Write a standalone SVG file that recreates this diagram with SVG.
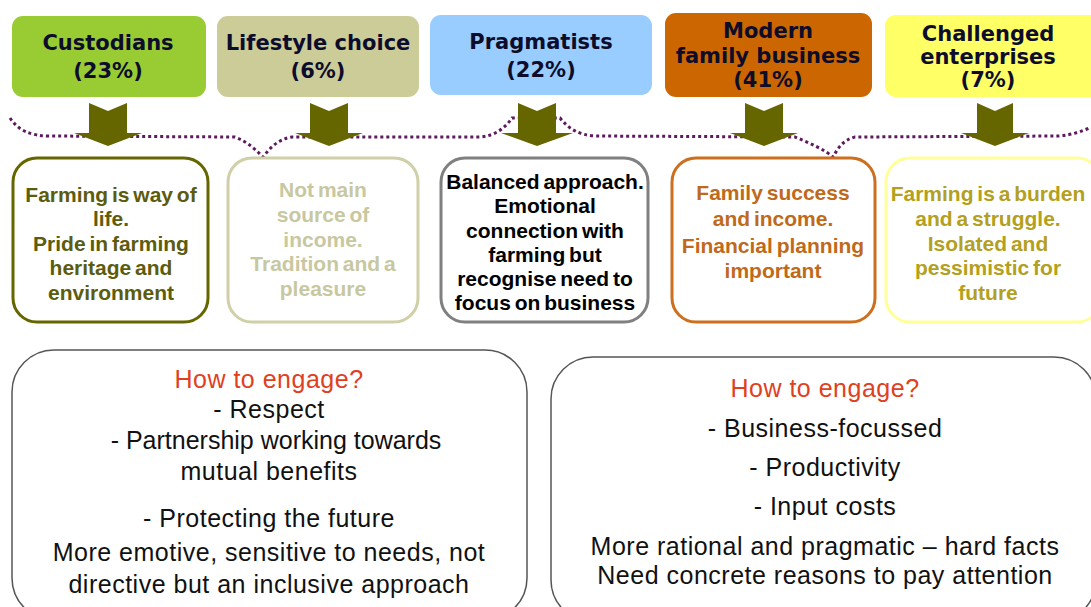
<svg xmlns="http://www.w3.org/2000/svg" width="1091" height="607" viewBox="0 0 1091 607">
<defs>
<style>
.title{font-family:"DejaVu Sans",Verdana,sans-serif;font-weight:bold;font-size:21px;fill:#0d0d2b;text-anchor:middle}
.desc{font-family:"Liberation Sans",Arial,sans-serif;font-weight:bold;font-size:21px;text-anchor:middle;word-spacing:-2px}
.eng{font-family:"Liberation Sans",Arial,sans-serif;font-size:25px;letter-spacing:0.5px;fill:#111;text-anchor:middle}
.eng .q{fill:#e0401e}
.eng .n{letter-spacing:0}
.arrow{fill:#666600}
.dot{fill:none;stroke:#5e1a5e;stroke-width:3;stroke-dasharray:3 3}
.bb{fill:#fff;stroke:#555;stroke-width:1.5}
</style>
</defs>
<rect width="1091" height="607" fill="#fff"/>
<g id="connectors">
<path class="dot" d="M10,118 C18,130 30,136 50,136 L235,137 C248,142 256,150 263,157 C270,148 278,139 292,137 L480,137 C495,136 505,128 512,118 L560,118 C568,128 578,135 595,136 L795,137 C810,143 825,150 833,157 C838,148 843,140 855,137 L1058,136 C1072,135 1083,131 1091,127"/>
<path class="arrow" d="M89,103 L108,111 L127,103 L127,133 L142,133 L108,146 L74,133 L89,133 Z"/>
<path class="arrow" d="M310,103 L329,111 L348,103 L348,133 L363,133 L329,146 L295,133 L310,133 Z"/>
<path class="arrow" d="M518,103 L537,111 L556,103 L556,133 L573,133 L537,146 L501,133 L518,133 Z"/>
<path class="arrow" d="M745,103 L764,111 L783,103 L783,133 L798,133 L764,146 L730,133 L745,133 Z"/>
<path class="arrow" d="M977,103 L995,111 L1013,103 L1013,133 L1029,133 L995,146 L961,133 L977,133 Z"/>
</g>
<g id="custodians">
<rect x="12" y="16" width="194" height="81" rx="11" fill="#99cc33"/>
<text class="title" x="108" y="50">Custodians</text>
<text class="title" x="108" y="78">(23%)</text>
</g>
<g id="lifestyle">
<rect x="217" y="16" width="202" height="81" rx="11" fill="#cccc99"/>
<text class="title" x="318" y="50">Lifestyle choice</text>
<text class="title" x="318" y="78">(6%)</text>
</g>
<g id="pragmatists">
<rect x="430" y="15" width="222" height="80" rx="11" fill="#99ccff"/>
<text class="title" x="541" y="49">Pragmatists</text>
<text class="title" x="541" y="77">(22%)</text>
</g>
<g id="modern">
<rect x="665" y="13" width="207" height="84" rx="11" fill="#cc6600"/>
<text class="title" x="768" y="38">Modern</text>
<text class="title" x="768" y="63">family business</text>
<text class="title" x="768" y="87">(41%)</text>
</g>
<g id="challenged">
<rect x="885" y="15" width="216" height="82" rx="11" fill="#ffff66"/>
<text class="title" x="988" y="41">Challenged</text>
<text class="title" x="988" y="64">enterprises</text>
<text class="title" x="988" y="87">(7%)</text>
</g>
<g id="desc-custodians">
<rect x="13" y="158" width="195" height="164" rx="24" fill="#fff" stroke="#666600" stroke-width="3"/>
<text class="desc" fill="#5c5c0c"><tspan x="111" y="202">Farming is way of</tspan><tspan x="111" y="226">life.</tspan><tspan x="111" y="251">Pride in farming</tspan><tspan x="111" y="275">heritage and</tspan><tspan x="111" y="300">environment</tspan></text>
</g>
<g id="desc-lifestyle">
<rect x="228" y="158" width="190" height="164" rx="24" fill="#fff" stroke="#d0d0a8" stroke-width="3"/>
<text class="desc" fill="#c8c8a0"><tspan x="323" y="197">Not main</tspan><tspan x="323" y="222">source of</tspan><tspan x="323" y="247">income.</tspan><tspan x="323" y="271">Tradition and a</tspan><tspan x="323" y="296">pleasure</tspan></text>
</g>
<g id="desc-pragmatists">
<rect x="441" y="158" width="207" height="164" rx="24" fill="#fff" stroke="#808080" stroke-width="3"/>
<text class="desc" fill="#000"><tspan x="545" y="189">Balanced approach.</tspan><tspan x="545" y="213">Emotional</tspan><tspan x="545" y="238">connection with</tspan><tspan x="545" y="262">farming but</tspan><tspan x="545" y="286">recognise need to</tspan><tspan x="545" y="310">focus on business</tspan></text>
</g>
<g id="desc-modern">
<rect x="672" y="158" width="203" height="164" rx="24" fill="#fff" stroke="#cc7020" stroke-width="3"/>
<text class="desc" fill="#c0691a"><tspan x="773" y="200">Family success</tspan><tspan x="773" y="226">and income.</tspan><tspan x="773" y="253">Financial planning</tspan><tspan x="773" y="278">important</tspan></text>
</g>
<g id="desc-challenged">
<rect x="886" y="158" width="215" height="164" rx="24" fill="#fff" stroke="#ffff99" stroke-width="3"/>
<text class="desc" fill="#b3a020"><tspan x="988" y="201">Farming is a burden</tspan><tspan x="988" y="226">and a struggle.</tspan><tspan x="988" y="251">Isolated and</tspan><tspan x="988" y="275">pessimistic for</tspan><tspan x="988" y="300">future</tspan></text>
</g>
<g id="engage-left">
<rect class="bb" x="12" y="350" width="515" height="270" rx="42"/>
<text class="eng"><tspan class="q" x="269" y="388">How to engage?</tspan><tspan x="269" y="418">- Respect</tspan><tspan class="n" x="276" y="449">- Partnership working towards</tspan><tspan x="269" y="480">mutual benefits</tspan><tspan x="269" y="527">- Protecting the future</tspan><tspan x="269" y="561">More emotive, sensitive to needs, not</tspan><tspan x="269" y="593">directive but an inclusive approach</tspan></text>
</g>
<g id="engage-right">
<rect class="bb" x="551" y="357" width="545" height="265" rx="42"/>
<text class="eng"><tspan class="q" x="825" y="397">How to engage?</tspan><tspan x="825" y="437">- Business-focussed</tspan><tspan x="825" y="476">- Productivity</tspan><tspan x="825" y="515">- Input costs</tspan><tspan x="825" y="555">More rational and pragmatic – hard facts</tspan><tspan x="825" y="584">Need concrete reasons to pay attention</tspan></text>
</g>
</svg>
